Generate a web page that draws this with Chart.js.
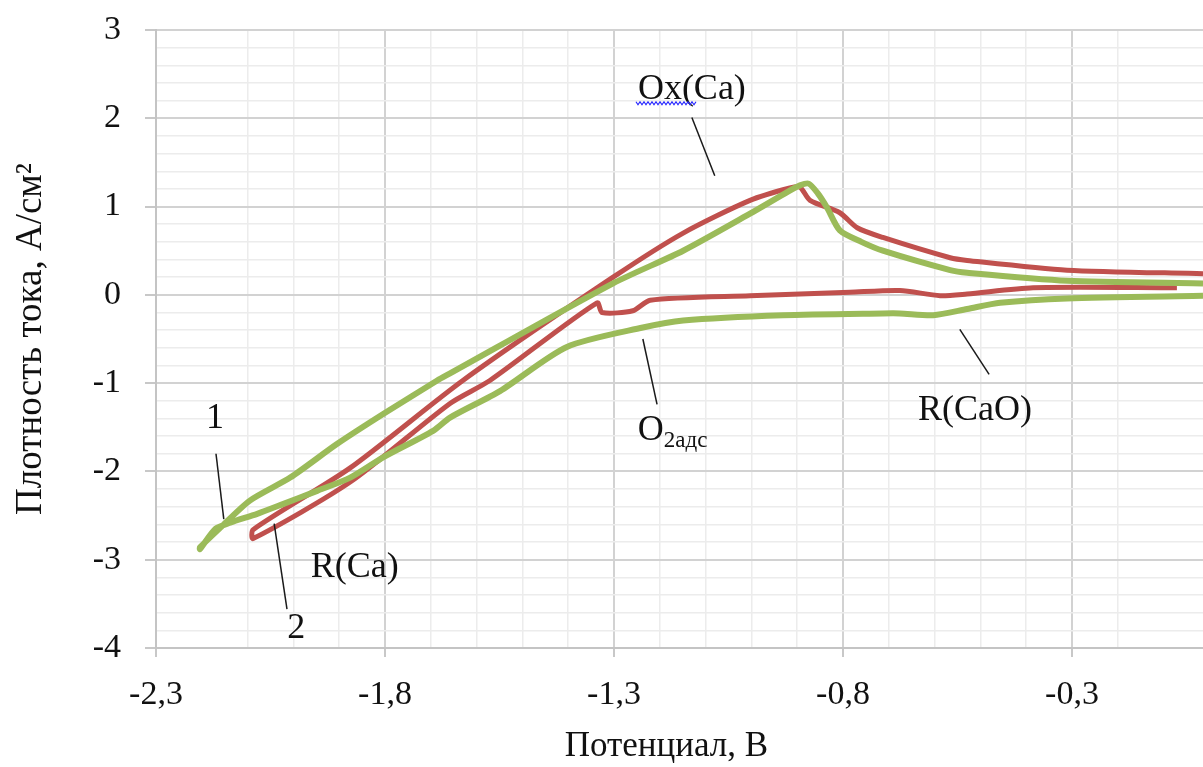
<!DOCTYPE html>
<html><head><meta charset="utf-8">
<script src="https://cdn.jsdelivr.net/npm/chart.js@4.4.0/dist/chart.umd.min.js"></script>
<style>html,body{margin:0;padding:0;background:#fff;overflow:hidden}
#wrap{position:relative;width:1203px;height:767px}</style></head>
<body><div id="wrap"><canvas id="c"></canvas></div>
<script>
// Curve 1 (green): cathodic branch (right to left) then anodic branch (left to right)
const curve1X = [-0.014,-0.311,-0.457,-0.529,-0.603,-0.676,-0.713,-0.931,-1.149,-1.237,-1.403,-1.549,-1.658,-1.695,-1.804,-1.876,-1.948,-2.023,-2.079,-2.138,-2.170,-2.204,
  -2.204,-2.160,-2.095,-2.007,-1.905,-1.804,-1.686,-1.658,-1.302,-1.149,-1.003,-0.920,-0.894,-0.875,-0.855,-0.835,-0.807,-0.760,-0.713,-0.566,-0.529,-0.311,-0.014];
const curve1Y = [-0.01,-0.04,-0.09,-0.16,-0.23,-0.21,-0.21,-0.23,-0.29,-0.37,-0.59,-1.09,-1.39,-1.54,-1.84,-2.07,-2.22,-2.37,-2.48,-2.58,-2.65,-2.88,
  -2.86,-2.64,-2.33,-2.07,-1.69,-1.35,-0.97,-0.89,0.13,0.50,0.92,1.17,1.24,1.26,1.15,0.99,0.73,0.60,0.50,0.28,0.25,0.16,0.13];
// Curve 2 (red)
const curve2X = [-0.071,-0.385,-0.529,-0.588,-0.676,-0.785,-1.003,-1.221,-1.259,-1.326,-1.337,-1.571,-1.658,-1.876,-2.088,
  -2.088,-1.876,-1.630,-1.302,-1.149,-1.003,-0.916,-0.894,-0.872,-0.807,-0.769,-0.713,-0.566,-0.529,-0.311,-0.014];
const curve2Y = [0.08,0.08,0.01,-0.01,0.05,0.03,-0.01,-0.06,-0.18,-0.20,-0.09,-0.97,-1.23,-2.12,-2.76,
  -2.66,-1.96,-0.97,0.20,0.70,1.07,1.21,1.22,1.07,0.93,0.76,0.65,0.42,0.39,0.28,0.24];

const xMajorTicks = [-2.3,-1.8,-1.3,-0.8,-0.3];
const xTickLabels = ['-2,3','-1,8','-1,3','-0,8','-0,3'];
const yTickLabels = ['3','2','1','0','-1','-2','-3','-4'];
const yMajorTicks = [3,2,1,0,-1,-2,-3,-4];

const noteTexts = ['Ox(Ca)','R(CaO)','O','1','2','R(Ca)'];
const noteX = [-1.130,-0.512,-1.248,-2.171,-1.994,-1.866];
const noteY = [2.32,-1.31,-1.54,-1.40,-3.78,-3.09];
const leaderX1 = [-1.130,-0.545,-1.237,-2.169,-2.042];
const leaderY1 = [2.01,-0.39,-0.50,-1.80,-2.59];
const leaderX2 = [-1.080,-0.481,-1.206,-2.152,-2.014];
const leaderY2 = [1.35,-0.90,-1.24,-2.54,-3.56];

const near = (v, arr) => arr.findIndex(a => Math.abs(a - v) < 1e-6);
const isTenth = v => Math.abs(v*10 - Math.round(v*10)) < 1e-6;
const SERIF = '"Liberation Serif","Times New Roman",serif';

const toPts = (xs, ys) => xs.map((x,i)=>({x, y: ys[i]}));

const notesPlugin = {
  id: 'notes',
  afterDatasetsDraw(chart) {
    const {ctx, scales:{x, y}} = chart;
    ctx.save();
    ctx.strokeStyle = '#1a1a1a';
    ctx.lineWidth = 1.5;
    for (let i = 0; i < leaderX1.length; i++) {
      ctx.beginPath();
      ctx.moveTo(x.getPixelForValue(leaderX1[i]), y.getPixelForValue(leaderY1[i]));
      ctx.lineTo(x.getPixelForValue(leaderX2[i]), y.getPixelForValue(leaderY2[i]));
      ctx.stroke();
    }
    ctx.fillStyle = '#111';
    ctx.textBaseline = 'middle';
    const big = '36px ' + SERIF;
    ctx.font = big;
    noteTexts.forEach((t, i) => {
      const px = x.getPixelForValue(noteX[i]), py = y.getPixelForValue(noteY[i]);
      if (t === 'O') {
        ctx.textAlign = 'left';
        ctx.fillText(t, px, py);
        const w = ctx.measureText(t).width;
        ctx.font = '23px ' + SERIF;
        ctx.fillText('2адс', px + w, py + 10);
        ctx.font = big;
      } else {
        ctx.textAlign = 'center';
        ctx.fillText(t, px, py);
      }
    });
    // spell-check wavy underline under "Ox"
    const wx1 = x.getPixelForValue(-1.252), wx2 = x.getPixelForValue(-1.119), wy = y.getPixelForValue(2.17);
    ctx.strokeStyle = '#2a2aff';
    ctx.lineWidth = 1.2;
    ctx.beginPath();
    for (let p = wx1, k = 0; p <= wx2; p += 2, k++) {
      const yy = wy + (k % 2 ? 1.5 : -1.5);
      if (k === 0) ctx.moveTo(p, yy); else ctx.lineTo(p, yy);
    }
    ctx.stroke();
    ctx.restore();
  }
};

new Chart(document.getElementById('c'), {
  type: 'scatter',
  data: {
    datasets: [
      { label: '1', data: toPts(curve1X, curve1Y), showLine: true, borderColor: '#9BBB59', borderWidth: 6,
        pointRadius: 0, tension: 0.25, fill: false },
      { label: '2', data: toPts(curve2X, curve2Y), showLine: true, borderColor: '#C0504D', borderWidth: 5,
        pointRadius: 0, tension: 0.25, fill: false }
    ]
  },
  options: {
    responsive: true, maintainAspectRatio: false, animation: false, devicePixelRatio: 1,
    layout: { padding: { top: 30, right: 0, bottom: 0, left: 0 } },
    plugins: { legend: { display: false }, tooltip: { enabled: false } },
    scales: {
      x: {
        type: 'linear', min: -2.3, max: -0.014,
        afterFit: s => { s.height = 119; s.paddingLeft = 0; s.paddingRight = 0; },
        ticks: {
          stepSize: 0.1, autoSkip: false, maxRotation: 0, padding: 18,
          font: { family: SERIF, size: 34 }, color: '#111',
          callback: v => { const i = near(v, xMajorTicks); return i >= 0 ? xTickLabels[i] : ''; }
        },
        grid: {
          color: c => near(c.tick.value, xMajorTicks) >= 0 ? '#d2d2d2' : (isTenth(c.tick.value) ? '#ececec' : 'rgba(0,0,0,0)'),
          lineWidth: c => near(c.tick.value, xMajorTicks) >= 0 ? 2 : 1.5,
          tickColor: c => near(c.tick.value, xMajorTicks) >= 0 ? '#c8c8c8' : 'rgba(0,0,0,0)',
          tickLength: 9, tickWidth: 2
        },
        border: { color: '#c4c4c4', width: 2 },
        title: { display: true, text: 'Потенциал, В\u00A0\u00A0\u00A0', color: '#111',
          font: { family: SERIF, size: 35, lineHeight: 1 }, padding: { top: 0, bottom: 3 } }
      },
      y: {
        type: 'linear', min: -4, max: 3,
        afterFit: s => { s.width = 156; s.paddingTop = 0; s.paddingBottom = 0; },
        ticks: {
          stepSize: 0.2, autoSkip: false, padding: 24,
          font: { family: SERIF, size: 34 }, color: '#111',
          callback: v => { const i = near(v, yMajorTicks); return i >= 0 ? yTickLabels[i] : ''; }
        },
        grid: {
          color: c => near(c.tick.value, yMajorTicks) >= 0 ? '#d2d2d2' : '#ececec',
          lineWidth: c => near(c.tick.value, yMajorTicks) >= 0 ? 2 : 1.5,
          tickColor: c => near(c.tick.value, yMajorTicks) >= 0 ? '#c8c8c8' : 'rgba(0,0,0,0)',
          tickLength: 11, tickWidth: 2
        },
        border: { color: '#c4c4c4', width: 2 },
        title: { display: true, text: 'Плотность тока, А/см²', color: '#111',
          font: { family: SERIF, size: 37, lineHeight: 1 }, padding: { top: 13, bottom: 0 } }
      }
    }
  },
  plugins: [notesPlugin]
});
</script></body></html>
